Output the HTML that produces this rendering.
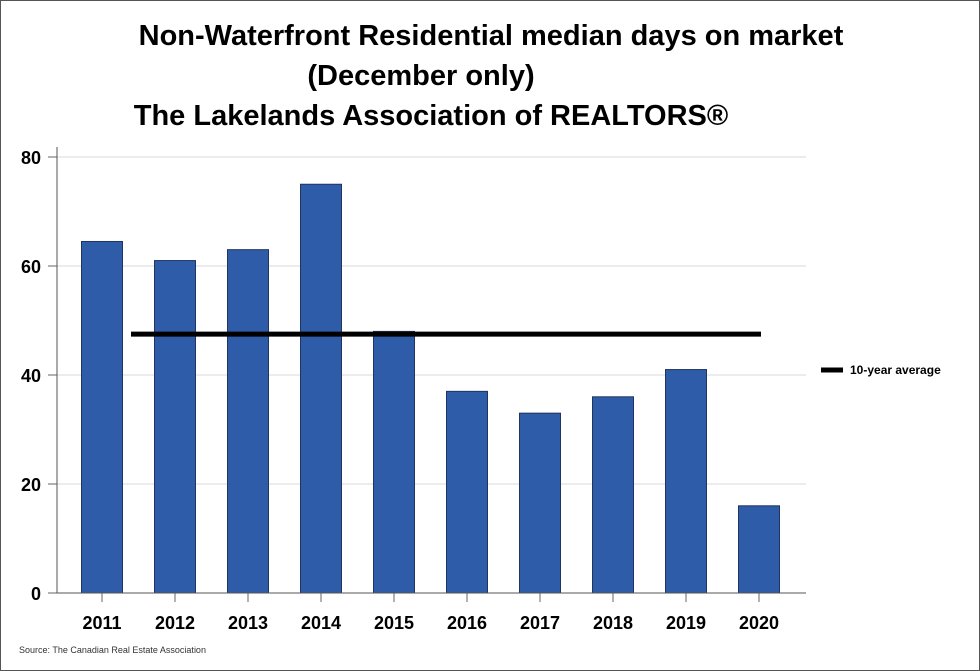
<!DOCTYPE html>
<html><head><meta charset="utf-8"><style>
body{margin:0;background:#fff;}
#wrap{position:relative;width:978px;height:669px;border:1px solid #555;overflow:hidden;font-family:"Liberation Sans",sans-serif;}
</style></head><body>
<div id="wrap">
<svg id="chart" width="978" height="669" xmlns="http://www.w3.org/2000/svg">
<g font-family="Liberation Sans, sans-serif" font-weight="bold" font-size="29" text-anchor="middle" fill="#000">
<text x="490" y="44">Non-Waterfront Residential median days on market</text>
<text x="420" y="84">(December only)</text>
<text x="430" y="124">The Lakelands Association of REALTORS®</text>
</g>
<g id="grid"></g>
<g id="bars"></g>
<g id="axes"></g>
<g>
<line x1="820" y1="369" x2="842" y2="369" stroke="#000" stroke-width="5"/>
<text x="849" y="373" font-size="12" font-weight="bold">10-year average</text>
</g>
<text x="18" y="652" font-size="9" fill="#333">Source: The Canadian Real Estate Association</text>
</svg>
</div>
<script>
const categories=["2011","2012","2013","2014","2015","2016","2017","2018","2019","2020"];
const values=[64.5,61,63,75,48,37,33,36,41,16];
const average=[47.5];
const yTicks=[0,20,40,60,80];
const NS="http://www.w3.org/2000/svg";
const x0=101,step=73,bw=41,yZero=592,yTop=156,yMax=80;
const xs=i=>x0+i*step;
const ys=v=>yZero-(v/yMax)*(yZero-yTop);
function mk(tag,attrs,parent){const e=document.createElementNS(NS,tag);for(const k in attrs)e.setAttribute(k,attrs[k]);parent.appendChild(e);return e;}
const grid=document.getElementById('grid'),bars=document.getElementById('bars'),axes=document.getElementById('axes');
yTicks.forEach(t=>{
 if(t>0){const l=mk('line',{x1:56,x2:805,y1:ys(t),y2:ys(t),stroke:'#d9d9d9','stroke-width':1},grid);
 
 }
 const tk=mk('line',{x1:47,x2:56,y1:ys(t),y2:ys(t),stroke:'#666'},axes);
 
 
 const tx=mk('text',{x:40,y:ys(t)+7,'text-anchor':'end','font-size':18,'font-weight':'bold'},axes);
 tx.textContent=t;
 
 
});
categories.forEach((c,i)=>{
 const r=mk('rect',{x:xs(i)-bw/2,y:ys(values[i]),width:bw,height:yZero-ys(values[i]),fill:'#2f5ca8',stroke:'#1f3560','stroke-width':1},bars);
 
 
 const tk=mk('line',{x1:xs(i),x2:xs(i),y1:yZero,y2:yZero+9,stroke:'#666'},axes);
 
 
 const tx=mk('text',{x:xs(i),y:yZero+36,'text-anchor':'middle','font-size':18,'font-weight':'bold'},axes);
 tx.textContent=c;
 
 
});
const avg=mk('line',{x1:xs(0)+29,x2:xs(9)+2,y1:ys(average[0]),y2:ys(average[0]),stroke:'#000','stroke-width':5},bars);


const ya=mk('line',{x1:56,x2:56,y1:146,y2:yZero,stroke:'#555'},axes);


const xa=mk('line',{x1:56,x2:805,y1:yZero,y2:yZero,stroke:'#555'},axes);


</script>
</body></html>
